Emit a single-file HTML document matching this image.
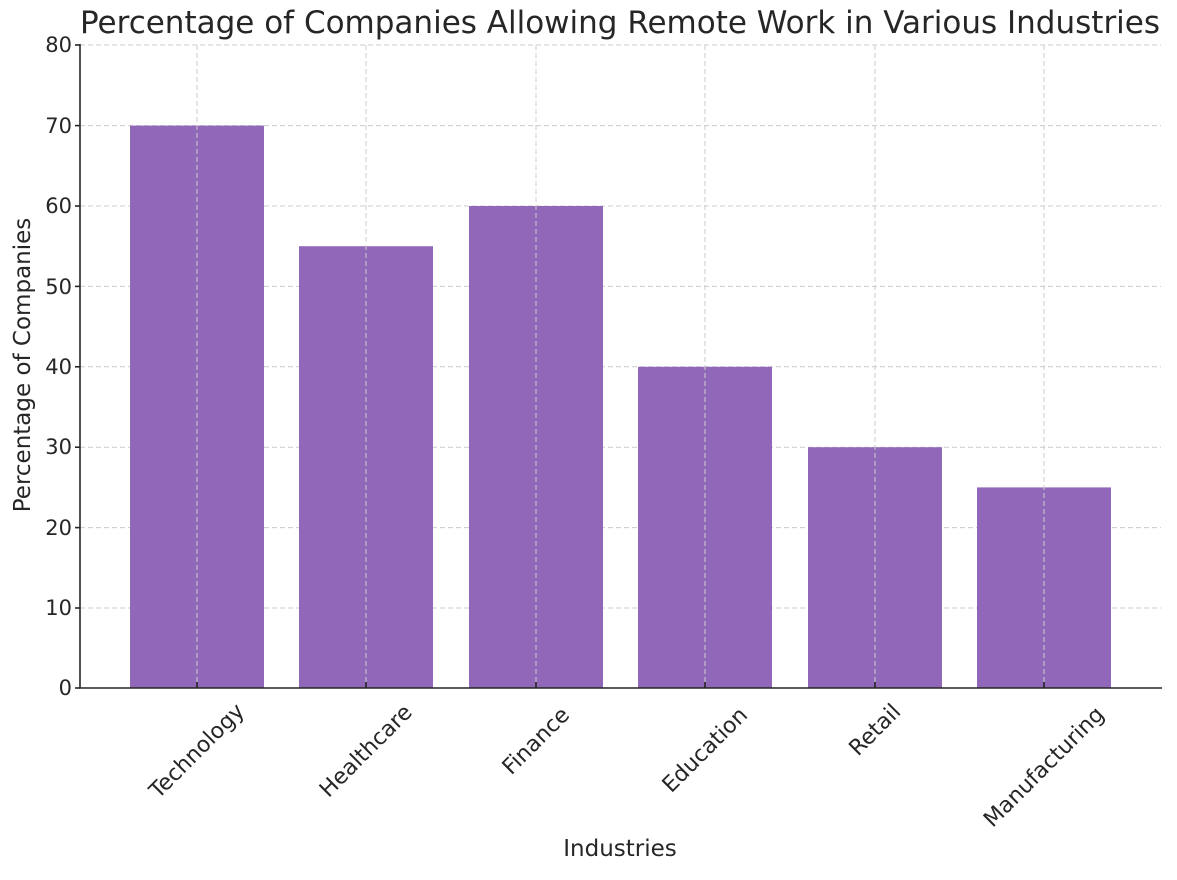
<!DOCTYPE html>
<html><head><style>body{margin:0;background:#fff}svg{display:block}text{font-family:"DejaVu Sans","Liberation Sans",sans-serif;fill:#262626}</style></head>
<body>
<svg width="1177" height="880" viewBox="0 0 1177 880">
<rect width="1177" height="880" fill="#fff"/>
<text x="620" y="33" font-size="31" text-anchor="middle" fill="#333">Percentage of Companies Allowing Remote Work in Various Industries</text>
<g stroke="#ccc" stroke-dasharray="5,3" stroke-width="1">
<line x1="80" x2="1161" y1="45" y2="45"/><line x1="80" x2="1161" y1="125.6" y2="125.6"/><line x1="80" x2="1161" y1="206" y2="206"/><line x1="80" x2="1161" y1="286.4" y2="286.4"/><line x1="80" x2="1161" y1="366.8" y2="366.8"/><line x1="80" x2="1161" y1="447.2" y2="447.2"/><line x1="80" x2="1161" y1="527.6" y2="527.6"/><line x1="80" x2="1161" y1="608" y2="608"/>
</g>
<g fill="#9067b9">
<rect x="130" y="125.6" width="134" height="562.4"/>
<rect x="299" y="246.2" width="134" height="441.8"/>
<rect x="469" y="206" width="134" height="482"/>
<rect x="638" y="366.8" width="134" height="321.2"/>
<rect x="808" y="447.2" width="134" height="240.8"/>
<rect x="977" y="487.4" width="134" height="200.6"/>
</g>
<g stroke="#ccc" stroke-dasharray="5,3" stroke-width="1">
<line x1="197" x2="197" y1="45" y2="688"/><line x1="366" x2="366" y1="45" y2="688"/><line x1="536" x2="536" y1="45" y2="688"/><line x1="705" x2="705" y1="45" y2="688"/><line x1="875" x2="875" y1="45" y2="688"/><line x1="1044" x2="1044" y1="45" y2="688"/>
</g>
<g stroke="#262626" stroke-width="1.6">
<line x1="80" y1="44" x2="80" y2="688"/><line x1="79" y1="688" x2="1162" y2="688"/>
<line x1="75" x2="80" y1="45" y2="45"/><line x1="75" x2="80" y1="125.6" y2="125.6"/><line x1="75" x2="80" y1="206" y2="206"/><line x1="75" x2="80" y1="286.4" y2="286.4"/><line x1="75" x2="80" y1="366.8" y2="366.8"/><line x1="75" x2="80" y1="447.2" y2="447.2"/><line x1="75" x2="80" y1="527.6" y2="527.6"/><line x1="75" x2="80" y1="608" y2="608"/><line x1="75" x2="80" y1="688" y2="688"/>
<line x1="197" x2="197" y1="682" y2="688"/><line x1="366" x2="366" y1="682" y2="688"/><line x1="536" x2="536" y1="682" y2="688"/><line x1="705" x2="705" y1="682" y2="688"/><line x1="875" x2="875" y1="682" y2="688"/><line x1="1044" x2="1044" y1="682" y2="688"/>
</g>
<g font-size="21" text-anchor="end">
<text x="72" y="52">80</text><text x="72" y="133">70</text><text x="72" y="213">60</text><text x="72" y="294">50</text><text x="72" y="374">40</text><text x="72" y="454">30</text><text x="72" y="535">20</text><text x="72" y="615">10</text><text x="72" y="695">0</text>
</g>
<g font-size="22" text-anchor="middle">
<text transform="translate(197,751) rotate(-45)" dy="7">Technology</text>
<text transform="translate(366,751) rotate(-45)" dy="7">Healthcare</text>
<text transform="translate(536,741) rotate(-45)" dy="7">Finance</text>
<text transform="translate(705,750) rotate(-45)" dy="7">Education</text>
<text transform="translate(875,730) rotate(-45)" dy="7">Retail</text>
<text transform="translate(1044,767) rotate(-45)" dy="7">Manufacturing</text>
</g>
<text x="620" y="856" font-size="23" text-anchor="middle">Industries</text>
<text transform="translate(30,365) rotate(-90)" font-size="23" text-anchor="middle">Percentage of Companies</text>
</svg>
</body></html>
